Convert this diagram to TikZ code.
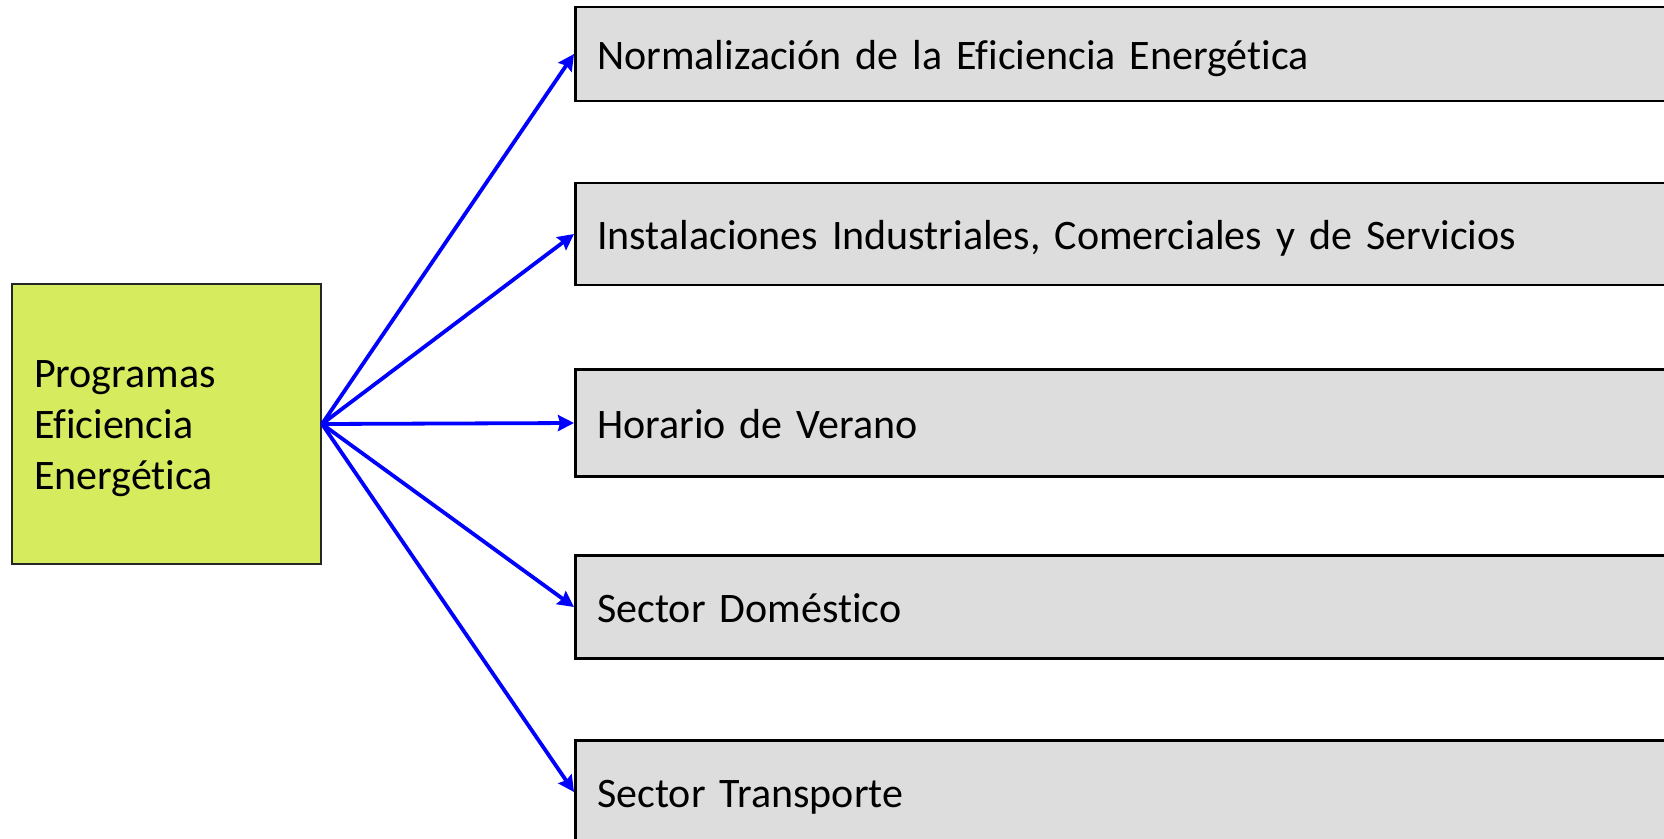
\documentclass[tikz,border=0pt]{standalone}
\usepackage{fontspec}
\setmainfont{Carlito}[Ligatures=NoCommon]
\usepackage{xcolor}
\usetikzlibrary{shapes, arrows.meta, positioning, calc}

\definecolor{progfill}{RGB}{215,235,95}
\definecolor{itemfill}{RGB}{221,221,221}

\tikzset{
    progbox/.style={draw=black!85, line width=2pt, fill=progfill, anchor=north west,
        minimum height=280pt, inner xsep=22pt, text width=265pt, align=left,
        font=\fontsize{42}{51}\selectfont},
    itembox/.style={draw=black, line width=2.5pt, fill=itemfill, anchor=west,
        inner xsep=22pt, text width=1156pt, align=left, text height=31pt, text depth=0pt,
        font=\fontsize{42}{50}\selectfont},
    branch/.style={draw=blue, line width=3.8pt, -{Stealth[length=16pt,width=16pt,inset=2pt]}}
}

\begin{document}
\begin{tikzpicture}[x=1pt, y=-1pt]
        \useasboundingbox (0,0) rectangle (1664,838);
        \clip (0,0) rectangle (1664,838);

        \node[progbox] (prog) at (11,283) {\strut Programas\\Eficiencia\\Energética};

        \node[itembox, minimum height=94pt] (norm) at (574,54) {Normalización de la Eficiencia Energética};
        \node[itembox, minimum height=102pt] (inst) at (574,234) {Instalaciones Industriales, Comerciales y de Servicios};
        \node[itembox, minimum height=107pt] (hora) at (574,423) {Horario de Verano};
        \node[itembox, minimum height=103pt] (dome) at (574,607) {Sector Doméstico};
        \node[itembox, minimum height=103pt] (tran) at (574,792) {Sector Transporte};

        \draw[branch] (prog.east) -- (norm.west);% up
        \draw[branch] (prog.east) -- (inst.west);
        \draw[branch] (prog.east) -- (hora.west);% straight
        \draw[branch] (prog.east) -- (dome.west);
        \draw[branch] (prog.east) -- (tran.west);% down
    \end{tikzpicture}
\end{document}
